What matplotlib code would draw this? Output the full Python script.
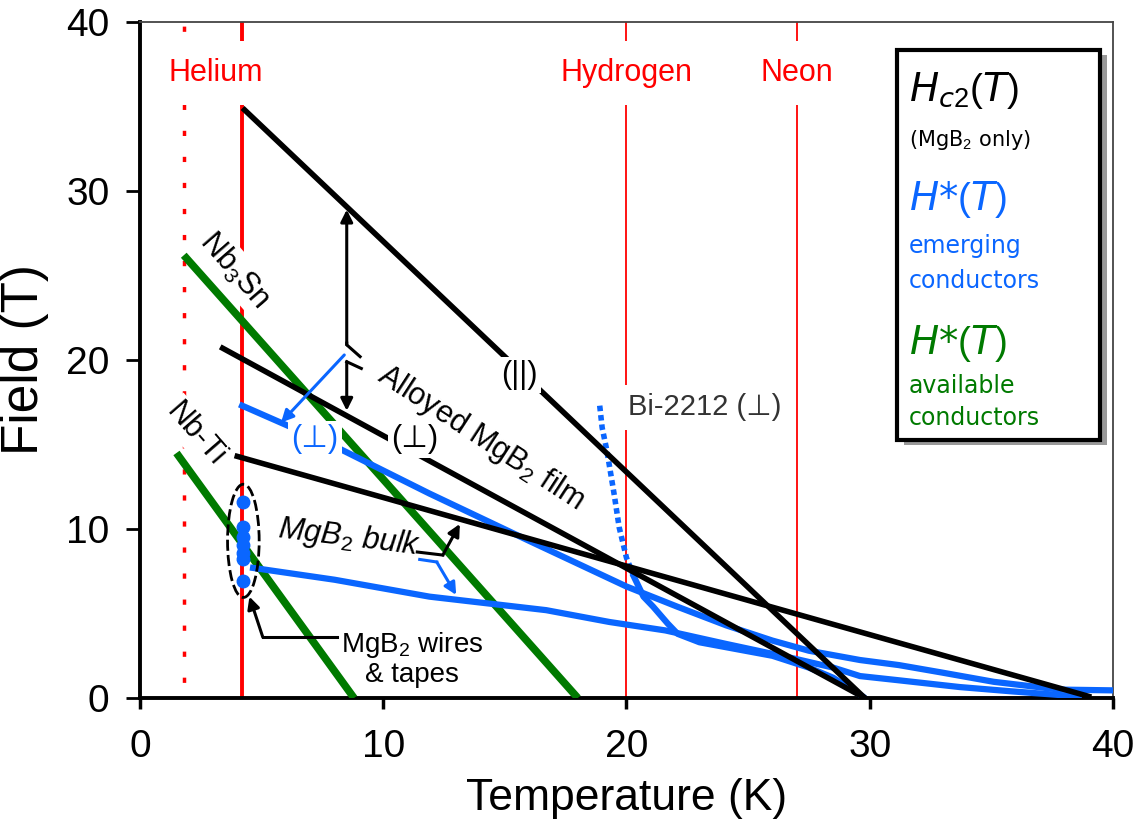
import matplotlib
matplotlib.use("Agg")
import matplotlib.pyplot as plt
from matplotlib.patches import Ellipse, Rectangle

plt.rcParams['font.family'] = ['Liberation Sans', 'DejaVu Sans']
plt.rcParams['mathtext.fontset'] = 'custom'
plt.rcParams['mathtext.rm'] = 'Liberation Sans'
plt.rcParams['mathtext.it'] = 'DejaVu Sans:italic'

RED = '#ff0000'
BLUE = '#0a66ff'
GREEN = '#007a00'

# cryogen boiling points (K)
he_lambda_T = 1.8
cryo_T = [4.2, 20.0, 27.0]
cryo_names = ['Helium', 'Hydrogen', 'Neon']
cryo_label_T = [3.1, 20.0, 27.0]

# Hc2(T), MgB2 only (black)
film_par_T = [4.3, 29.8]
film_par_H = [34.8, 0.0]
film_perp_T = [3.4, 29.8]
film_perp_H = [20.7, 0.0]
bulk_hc2_T = [4.0, 39.0]
bulk_hc2_H = [14.3, 0.1]

# H*(T), emerging conductors (blue)
film_hs_T = [4.2, 8.0, 11.9, 16.0, 20.0, 22.1, 24.1, 26.0, 27.5, 29.6, 31.2, 33.0, 35.1, 37.8, 40.2]
film_hs_H = [17.3, 14.9, 12.1, 9.3, 6.6, 5.4, 4.3, 3.4, 2.8, 2.25, 1.95, 1.5, 0.96, 0.5, 0.45]
bi_dot_T = [18.9, 19.0, 19.2, 19.5, 19.7, 20.0, 20.3]
bi_dot_H = [17.3, 16.0, 14.6, 12.0, 10.1, 8.3, 7.2]
bi_T = [20.3, 20.7, 21.1, 21.7, 22.1, 23.0, 24.5, 26.0, 27.5, 28.5, 29.7]
bi_H = [7.2, 6.0, 5.4, 4.4, 3.8, 3.3, 2.9, 2.5, 1.8, 1.2, 0.1]
bulk_hs_T = [4.65, 8.0, 11.9, 16.7, 19.3, 21.6, 24.1, 26.7, 28.5, 29.6, 31.2, 33.7, 35.8, 37.8, 38.6]
bulk_hs_H = [7.7, 7.0, 6.0, 5.2, 4.5, 4.0, 3.2, 2.4, 1.8, 1.3, 1.05, 0.65, 0.4, 0.18, 0.05]
wire_T = [4.25] * 7
wire_H = [11.6, 10.1, 9.5, 9.05, 8.6, 8.2, 6.9]

# H*(T), available conductors (green)
nb3sn_T = [1.8, 18.0]
nb3sn_H = [26.2, 0.0]
nbti_T = [1.5, 8.8]
nbti_H = [14.5, 0.0]

ticks = [0, 10, 20, 30, 40]

fig = plt.figure(figsize=(11.38, 8.31), dpi=100)
ax = fig.add_axes([0.123, 0.16, 0.855, 0.8135])
ax.set_xlim(0, 40)
ax.set_ylim(0, 40)

# cryogen lines
ax.axvline(he_lambda_T, color=RED, lw=2.5, ls=(3, (1.5, 6)), zorder=1)
ax.axvline(cryo_T[0], color=RED, lw=2.8, zorder=1)
for t in cryo_T[1:]:
    ax.axvline(t, color=RED, lw=1.3, zorder=1)
for name, t in zip(cryo_names, cryo_label_T):
    ax.text(t, 37.0, name, color=RED, fontsize=22, ha='center', va='center', zorder=2,
            bbox=dict(boxstyle='square,pad=0.55', fc='white', ec='none'))

# green available conductors
ax.plot(nb3sn_T, nb3sn_H, color=GREEN, lw=5.5, solid_capstyle='butt', zorder=3)
ax.plot(nbti_T, nbti_H, color=GREEN, lw=5.5, solid_capstyle='butt', zorder=3)

# blue emerging conductors
ax.plot(film_hs_T, film_hs_H, color=BLUE, lw=4.5, zorder=4)
ax.plot(bulk_hs_T, bulk_hs_H, color=BLUE, lw=4.5, zorder=4)
ax.plot(bi_T, bi_H, color=BLUE, lw=4.5, zorder=4)
ax.plot(bi_dot_T, bi_dot_H, color=BLUE, lw=4, ls=(0, (1.0, 0.7)), zorder=4)
ax.plot(wire_T, wire_H, 'o', color=BLUE, ms=9, zorder=6)

# black Hc2 lines
ax.plot(film_par_T, film_par_H, color='black', lw=4, zorder=5)
ax.plot(film_perp_T, film_perp_H, color='black', lw=4, zorder=5)
ax.plot(bulk_hc2_T, bulk_hc2_H, color='black', lw=4, zorder=5)

ax.add_patch(Ellipse((4.25, 9.3), 1.3, 6.7, fill=False, ec='black', lw=2,
                     ls=(0, (4, 1.5)), zorder=7))

# labels on the curves
lab = dict(ha='center', va='center', zorder=8)
wbox = dict(boxstyle='square,pad=0.1', fc='white', ec='none')
ax.text(15.6, 19.1, '(||)', fontsize=22, color='black', bbox=wbox, **lab)
ax.text(11.3, 15.3, '(\u22a5)', fontsize=22, color='black', bbox=wbox, **lab)
ax.text(7.2, 15.3, '(\u22a5)', fontsize=22, color=BLUE, bbox=wbox, **lab)
ax.text(23.2, 17.2, 'Bi-2212 (\u22a5)', fontsize=21, color='#333333',
        bbox=dict(boxstyle='square,pad=0.3', fc='white', ec='none'), **lab)
ax.text(14.0, 15.4, 'Alloyed MgB$_2$ film', fontsize=22, rotation=-33,
        rotation_mode='anchor', **lab)
ax.text(8.6, 9.5, 'MgB$_2$ bulk', fontsize=22, style='italic', rotation=-7, **lab)
ax.text(11.2, 2.3, 'MgB$_2$ wires\n& tapes', fontsize=20, linespacing=1.1, **lab)
ax.text(3.9, 25.3, 'Nb$_3$Sn', fontsize=22, rotation=-49, bbox=wbox, **lab)
ax.text(2.3, 15.6, 'Nb-Ti', fontsize=22, rotation=-49, bbox=wbox, **lab)

# annotation arrows
arw = dict(arrowstyle='-|>', color='black', lw=2.2, mutation_scale=18, shrinkA=0, shrinkB=0)
ax.plot([9.05, 8.5, 8.5], [20.2, 20.9, 21.0], color='black', lw=2.2, zorder=8)
ax.annotate('', xy=(8.5, 28.9), xytext=(8.5, 20.9), arrowprops=arw, zorder=8)
ax.plot([9.1, 8.5], [19.5, 19.9], color='black', lw=2.2, zorder=8)
ax.annotate('', xy=(8.5, 17.0), xytext=(8.5, 19.9), arrowprops=arw, zorder=8)
ax.annotate('', xy=(5.8, 16.3), xytext=(8.4, 20.3),
            arrowprops=dict(arw, color=BLUE), zorder=8)
ax.plot([11.4, 12.45], [8.64, 8.46], color='black', lw=2.2, zorder=8)
ax.annotate('', xy=(13.15, 10.3), xytext=(12.45, 8.46), arrowprops=arw, zorder=8)
ax.plot([11.5, 12.2], [8.2, 8.05], color=BLUE, lw=2.2, zorder=8)
ax.annotate('', xy=(13.0, 6.1), xytext=(12.2, 8.05),
            arrowprops=dict(arw, color=BLUE), zorder=8)
ax.plot([8.1, 5.05], [3.6, 3.6], color='black', lw=2.2, zorder=8)
ax.annotate('', xy=(4.5, 6.0), xytext=(5.05, 3.6), arrowprops=arw, zorder=8)

# legend box
ax.add_patch(Rectangle((0.785, 0.374), 0.209, 0.577, transform=ax.transAxes,
                       fc='#999999', ec='none', zorder=9))
ax.add_patch(Rectangle((0.778, 0.382), 0.209, 0.577, transform=ax.transAxes,
                       fc='white', ec='black', lw=3, zorder=10))
leg = dict(transform=ax.transAxes, ha='left', va='center', zorder=11,
           family='DejaVu Sans')
lx = 0.79
ax.text(lx, 0.899, '$H_{c2}(T)$', fontsize=28, color='black', **leg)
ax.text(lx, 0.825, '(MgB$_2$ only)', fontsize=15, color='black', **leg)
ax.text(lx, 0.737, '$H$*$(T)$', fontsize=28, color=BLUE, **leg)
ax.text(lx, 0.668, 'emerging', fontsize=17, color=BLUE, **leg)
ax.text(lx, 0.617, 'conductors', fontsize=17, color=BLUE, **leg)
ax.text(lx, 0.525, '$H$*$(T)$', fontsize=28, color=GREEN, **leg)
ax.text(lx, 0.462, 'available', fontsize=17, color=GREEN, **leg)
ax.text(lx, 0.414, 'conductors', fontsize=17, color=GREEN, **leg)

# axes styling
ax.set_xticks(ticks)
ax.set_yticks(ticks)
ax.tick_params(axis='x', labelsize=28, length=8, width=2.5, direction='out', pad=14)
ax.tick_params(axis='y', labelsize=28, length=10, width=2, direction='out', pad=12)
for s in ['left', 'bottom']:
    ax.spines[s].set_linewidth(2.8)
    ax.spines[s].set_color('black')
for s in ['top', 'right']:
    ax.spines[s].set_linewidth(1.3)
    ax.spines[s].set_color('#444444')
ax.set_xlabel('Temperature (K)', fontsize=32, labelpad=10)
ax.set_ylabel('Field (T)', fontsize=37, labelpad=12)

fig.savefig('out.png', dpi=100)
